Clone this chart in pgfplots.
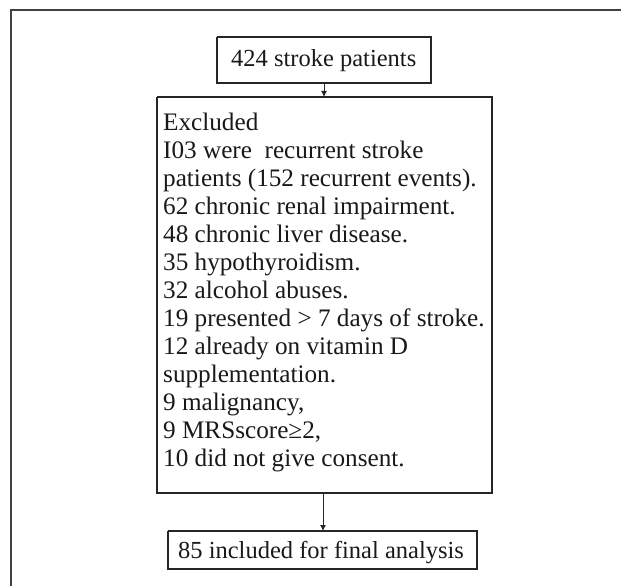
\documentclass[border=0pt]{standalone}
\usepackage{fontspec}
\setmainfont{Liberation Serif}
\usepackage{pgfplots}
\pgfplotsset{compat=1.18}
\usetikzlibrary{arrows.meta}
\begin{document}
\begin{tikzpicture}
\begin{axis}[
  width=621bp, height=586bp, scale only axis,
  xmin=0, xmax=621, ymin=0, ymax=586, y dir=reverse,
  hide axis, clip=false,
]
% outer frame
\addplot[draw=black!75, line width=2bp] coordinates {(11,586) (11,10) (621,10)};
% top box
\addplot[draw=black!85, line width=1.2bp] coordinates {(217,37) (431,37) (431,83) (217,83) (217,37)};
% big box
\addplot[draw=black!85, line width=1.2bp] coordinates {(157,97) (492,97) (492,493) (157,493) (157,97)};
% bottom box
\addplot[draw=black!85, line width=1.2bp] coordinates {(168,531) (477,531) (477,569) (168,569) (168,531)};
% arrows
\addplot[draw=black!85, line width=0.9bp, -{Latex[length=6bp,width=6bp]}] coordinates {(324,83) (324,97)};
\addplot[draw=black!85, line width=0.9bp, -{Latex[length=6bp,width=6bp]}] coordinates {(323,493) (323,531)};
% texts
\tikzset{t/.style={anchor=base west, inner sep=0pt, text=black!90, font=\fontsize{24.5bp}{27.75bp}\selectfont},
         tb/.style={t, font=\fontsize{25.2bp}{28bp}\selectfont}}
\node[t] at (axis cs:231,67) {424 stroke patients};
\node[tb] at (axis cs:163,130) {Excluded};
\node[tb] at (axis cs:163,158) {I03 were\ \ recurrent stroke};
\node[tb] at (axis cs:163,186) {patients (152 recurrent events).};
\node[tb] at (axis cs:163,214) {62 chronic renal impairment.};
\node[tb] at (axis cs:163,242) {48 chronic liver disease.};
\node[tb] at (axis cs:163,270) {35 hypothyroidism.};
\node[tb] at (axis cs:163,298) {32 alcohol abuses.};
\node[tb] at (axis cs:163,326) {19 presented > 7 days of stroke.};
\node[tb] at (axis cs:163,354) {12 already on vitamin D};
\node[tb] at (axis cs:163,382) {supplementation.};
\node[tb] at (axis cs:163,410) {9 malignancy,};
\node[tb] at (axis cs:163,438) {9 MRSscore≥2,};
\node[tb] at (axis cs:163,466) {10 did not give consent.};
\node[t] at (axis cs:178,558) {85 included for final analysis};
\end{axis}
\pgfresetboundingbox
\path (current axis.south west) (current axis.north east);
\end{tikzpicture}
\end{document}
